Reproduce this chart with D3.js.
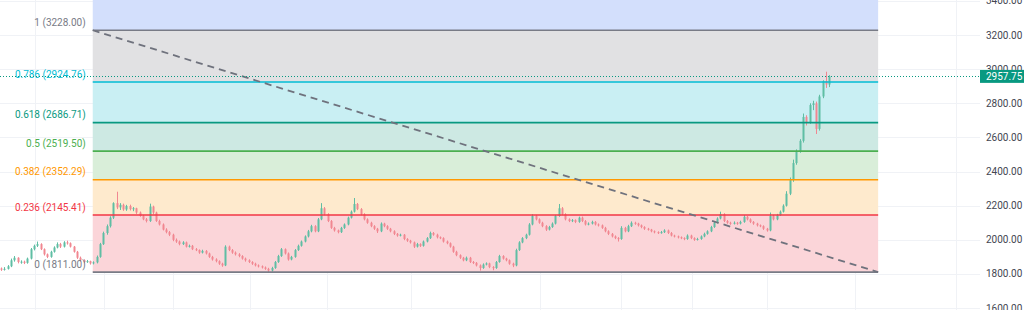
<!DOCTYPE html>
<html>
<head>
<meta charset="utf-8">
<script src="https://cdn.jsdelivr.net/npm/d3@7"></script>
<style>
  body { margin: 0; background: #fff; }
  svg { display: block; font-family: Roboto, "DejaVu Sans", sans-serif; }
</style>
</head>
<body>
<div id="chart"></div>
<script>
// daily candles: [open, high, low, close]
const candles = [
  [1832,1838,1818,1825],[1825,1840,1820,1830],[1830,1852,1826,1845],[1845,1890,1840,1880],[1880,1905,1872,1895],
  [1895,1898,1862,1870],[1870,1880,1860,1872],[1872,1878,1858,1865],[1865,1896,1860,1890],[1890,1952,1885,1945],
  [1945,1972,1938,1965],[1965,1990,1958,1975],[1975,1980,1940,1945],[1945,1950,1908,1915],[1915,1920,1893,1900],
  [1900,1936,1895,1930],[1930,1962,1925,1955],[1955,1985,1950,1975],[1975,1982,1952,1960],[1960,1992,1955,1985],
  [1985,1995,1972,1980],[1980,1985,1955,1960],[1960,1964,1925,1930],[1930,1935,1888,1895],[1895,1902,1874,1880],
  [1880,1886,1862,1870],[1870,1882,1865,1875],[1875,1878,1855,1862],[1862,1874,1856,1868],[1868,1908,1862,1900],
  [1900,1982,1895,1975],[1975,2048,1970,2040],[2040,2090,2030,2080],[2080,2138,2072,2130],[2130,2220,2122,2215],
  [2215,2282,2180,2190],[2190,2215,2175,2205],[2205,2212,2170,2178],[2178,2205,2170,2198],[2198,2206,2172,2180],
  [2180,2192,2168,2185],[2185,2188,2152,2160],[2160,2166,2135,2140],[2140,2146,2115,2120],[2120,2128,2102,2110],
  [2110,2212,2105,2195],[2195,2200,2150,2160],[2160,2165,2105,2110],[2110,2118,2084,2090],[2090,2096,2055,2060],
  [2060,2068,2038,2045],[2045,2052,2022,2030],[2030,2036,1992,2000],[2000,2008,1982,1990],[1990,1996,1968,1975],
  [1975,1992,1970,1985],[1985,1990,1955,1960],[1960,1972,1955,1965],[1965,1970,1940,1945],[1945,1952,1934,1940],
  [1940,1944,1918,1925],[1925,1942,1920,1935],[1935,1940,1914,1920],[1920,1925,1894,1900],[1900,1906,1878,1885],
  [1885,1892,1868,1875],[1875,1880,1853,1860],[1860,1866,1842,1850],[1850,1968,1846,1960],[1960,1966,1934,1940],
  [1940,1946,1918,1925],[1925,1932,1908,1915],[1915,1922,1898,1905],[1905,1910,1884,1890],[1890,1896,1872,1880],
  [1880,1886,1864,1870],[1870,1875,1853,1860],[1860,1866,1844,1850],[1850,1856,1838,1845],[1845,1850,1832,1838],
  [1838,1844,1824,1830],[1830,1836,1812,1820],[1820,1842,1814,1835],[1835,1876,1830,1870],[1870,1912,1865,1905],
  [1905,1952,1900,1945],[1945,1950,1914,1920],[1920,1926,1878,1885],[1885,1906,1880,1900],[1900,1946,1895,1940],
  [1940,1972,1935,1965],[1965,1996,1960,1990],[1990,2026,1985,2020],[2020,2058,2014,2050],[2050,2088,2044,2080],
  [2080,2086,2044,2050],[2050,2128,2045,2120],[2120,2215,2115,2185],[2185,2192,2144,2150],[2150,2156,2104,2110],
  [2110,2116,2064,2070],[2070,2076,2048,2055],[2055,2060,2038,2045],[2045,2076,2040,2070],[2070,2096,2064,2090],
  [2090,2136,2085,2130],[2130,2172,2125,2165],[2165,2245,2160,2210],[2210,2216,2174,2180],[2180,2186,2144,2150],
  [2150,2156,2114,2120],[2120,2126,2094,2100],[2100,2106,2074,2080],[2080,2086,2058,2065],[2065,2070,2040,2050],
  [2050,2102,2045,2095],[2095,2100,2074,2080],[2080,2086,2058,2065],[2065,2070,2044,2050],[2050,2056,2028,2035],
  [2035,2040,2018,2025],[2025,2036,2020,2030],[2030,2034,1998,2005],[2005,2010,1988,1995],[1995,2000,1978,1985],
  [1985,1990,1952,1960],[1960,1982,1955,1975],[1975,1980,1958,1965],[1965,1996,1960,1990],[1990,2016,1985,2010],
  [2010,2048,2005,2040],[2040,2046,2024,2030],[2030,2036,2008,2015],[2015,2020,2004,2010],[2010,2015,1984,1990],
  [1990,1996,1974,1980],[1980,1985,1954,1960],[1960,1965,1924,1930],[1930,1936,1904,1910],[1910,1915,1888,1895],
  [1895,1900,1874,1880],[1880,1902,1875,1895],[1895,1900,1864,1870],[1870,1876,1858,1865],[1865,1870,1844,1850],
  [1850,1856,1820,1835],[1835,1862,1830,1855],[1855,1868,1850,1862],[1862,1866,1834,1840],[1840,1846,1822,1835],
  [1835,1876,1830,1870],[1870,1912,1866,1905],[1905,1910,1884,1890],[1890,1895,1874,1880],[1880,1885,1854,1860],
  [1860,1866,1840,1850],[1850,1948,1845,1940],[1940,1992,1935,1985],[1985,2016,1980,2010],[2010,2036,2004,2030],
  [2030,2098,2025,2090],[2090,2150,2085,2140],[2140,2146,2114,2120],[2120,2126,2094,2100],[2100,2106,2074,2080],
  [2080,2086,2052,2060],[2060,2082,2055,2075],[2075,2102,2070,2095],[2095,2146,2090,2140],[2140,2210,2135,2185],
  [2185,2192,2144,2150],[2150,2156,2114,2120],[2120,2126,2104,2110],[2110,2122,2104,2115],[2115,2120,2098,2105],
  [2105,2136,2100,2130],[2130,2136,2104,2110],[2110,2116,2084,2090],[2090,2102,2085,2095],[2095,2112,2090,2105],
  [2105,2110,2084,2090],[2090,2096,2078,2085],[2085,2090,2064,2070],[2070,2076,2044,2050],[2050,2056,2028,2035],
  [2035,2040,2014,2020],[2020,2026,2004,2010],[2010,2016,1990,2005],[2005,2080,2000,2070],[2070,2076,2044,2050],
  [2050,2088,2045,2080],[2080,2108,2075,2100],[2100,2106,2088,2095],[2095,2100,2078,2085],[2085,2090,2068,2075],
  [2075,2080,2058,2065],[2065,2070,2054,2060],[2060,2064,2044,2050],[2050,2055,2038,2045],[2045,2050,2034,2040],
  [2040,2052,2036,2045],[2045,2062,2040,2055],[2055,2060,2034,2040],[2040,2046,2020,2025],[2025,2030,2014,2020],
  [2020,2025,2008,2015],[2015,2020,2004,2010],[2010,2015,1998,2005],[2005,2032,2000,2025],[2025,2030,2004,2010],
  [2010,2015,1994,2000],[2000,2012,1996,2005],[2005,2026,2000,2020],[2020,2042,2015,2035],[2035,2056,2030,2050],
  [2050,2082,2045,2075],[2075,2106,2070,2100],[2100,2132,2095,2125],[2125,2165,2120,2150],[2150,2156,2104,2110],
  [2110,2116,2094,2100],[2100,2106,2088,2095],[2095,2108,2090,2100],[2100,2105,2088,2095],[2095,2112,2090,2105],
  [2105,2145,2100,2135],[2135,2140,2114,2120],[2120,2126,2098,2105],[2105,2110,2088,2095],[2095,2100,2078,2085],
  [2085,2090,2074,2080],[2080,2085,2058,2065],[2065,2070,2048,2055],[2055,2160,2050,2140],[2140,2146,2114,2120],
  [2120,2152,2115,2145],[2145,2172,2140,2165],[2165,2208,2160,2200],[2200,2285,2195,2270],[2270,2365,2262,2350],
  [2350,2470,2340,2450],[2450,2530,2440,2520],[2520,2590,2510,2580],[2580,2740,2570,2720],[2720,2730,2670,2690],
  [2690,2800,2680,2790],[2790,2815,2760,2800],[2800,2810,2620,2650],[2650,2850,2640,2840],[2840,2935,2830,2930],
  [2930,2985,2890,2910],[2910,2965,2895,2957.75]
];

const fibRatios = [1.618, 1, 0.786, 0.618, 0.5, 0.382, 0.236, 0];
const fibPrices = [4103.71, 3228.00, 2924.76, 2686.71, 2519.50, 2352.29, 2145.41, 1811.00];
const fibStartIdx = 27.8;   // bar index of the 1 (high) anchor
const fibEndIdx = 265.8;    // bar index of the 0 (low) anchor
const priceTicks = [1600, 1800, 2000, 2200, 2400, 2600, 2800, 3000, 3200, 3400];
const timeGridIdx = [10.3, 31.2, 52.1, 75.5, 98.8, 124.2, 163.3, 187.9, 209.4, 232.1, 258.8, 289.4];
const lastPrice = 2957.75;

// styles
const lineColor = { 1.618: '#2962ff', 1: '#787b86', 0.786: '#00bcd4', 0.618: '#089981', 0.5: '#4caf50', 0.382: '#ff9800', 0.236: '#f23645', 0: '#787b86' };
const zoneColor = ['#d3dffc', '#e1e1e3', '#c9eff3', '#cde9e3', '#d9eed9', '#feeacd', '#fbd5d9'];
const upColor = '#5fbea4', downColor = '#f18791';

const W = 1024, H = 310, plotRight = 980;

const svg = d3.select('#chart').append('svg')
    .attr('width', W)
    .attr('height', H);

const x = d3.scaleLinear().domain([0, 100]).range([1, 331]);
const y = d3.scaleLinear().domain([1600, 3400]).range([308.1, 0.9]);

// grid
svg.append('g').selectAll('line').data(priceTicks).join('line')
    .attr('x1', 0).attr('x2', plotRight)
    .attr('y1', d => Math.round(y(d)) + 0.5).attr('y2', d => Math.round(y(d)) + 0.5)
    .attr('stroke', '#f0f2f6');

svg.append('g').selectAll('line').data(timeGridIdx).join('line')
    .attr('x1', d => Math.round(x(d)) + 0.5).attr('x2', d => Math.round(x(d)) + 0.5)
    .attr('y1', 0).attr('y2', H)
    .attr('stroke', '#f0f2f6');

// fib zones
const x0 = x(fibStartIdx), x1 = x(fibEndIdx);
const zones = d3.pairs(fibPrices);
svg.append('g').selectAll('rect').data(zones).join('rect')
    .attr('x', x0)
    .attr('width', x1 - x0)
    .attr('y', d => y(d[0]))
    .attr('height', d => y(d[1]) - y(d[0]))
    .attr('fill', (d, i) => zoneColor[i]);

// candles
const bar = svg.append('g').selectAll('g').data(candles).join('g')
    .attr('fill', d => d[3] >= d[0] ? upColor : downColor)
    .attr('stroke', d => d[3] >= d[0] ? upColor : downColor);

bar.append('line')
    .attr('x1', (d, i) => Math.round(x(i)) + 0.5)
    .attr('x2', (d, i) => Math.round(x(i)) + 0.5)
    .attr('y1', d => y(d[1]))
    .attr('y2', d => y(d[2]))
    .attr('stroke-width', 1);

bar.append('rect')
    .attr('x', (d, i) => Math.round(x(i)) - 0.5)
    .attr('width', 2)
    .attr('y', d => y(Math.max(d[0], d[3])))
    .attr('height', d => Math.max(1, Math.abs(y(d[0]) - y(d[3]))))
    .attr('stroke', 'none');

// fib level lines
svg.append('g').selectAll('line').data(fibRatios).join('line')
    .attr('x1', x0).attr('x2', x1)
    .attr('y1', (d, i) => y(fibPrices[i]))
    .attr('y2', (d, i) => y(fibPrices[i]))
    .attr('stroke', d => lineColor[d])
    .attr('stroke-width', 1.6);

// trend line between anchors
svg.append('line')
    .attr('x1', x0).attr('y1', y(fibPrices[1]))
    .attr('x2', x1).attr('y2', y(fibPrices[fibPrices.length - 1]))
    .attr('stroke', '#6f727d')
    .attr('stroke-width', 1.8)
    .attr('stroke-dasharray', '7,5');

// level labels (only those inside the visible price range)
const visibleLevels = fibRatios.map((r, i) => ({ r, p: fibPrices[i] }))
    .filter(d => d.p <= y.domain()[1]);

svg.append('g').selectAll('text').data(visibleLevels).join('text')
    .attr('x', x0 - 7)
    .attr('y', d => y(d.p) - 4.5)
    .attr('text-anchor', 'end')
    .attr('font-size', '10px')
    .attr('fill', d => lineColor[d.r])
    .text(d => `${d.r} (${d.p.toFixed(2)})`);

// last price line
svg.append('line')
    .attr('x1', 0).attr('x2', plotRight)
    .attr('y1', Math.round(y(lastPrice)) + 0.5).attr('y2', Math.round(y(lastPrice)) + 0.5)
    .attr('stroke', '#089981')
    .attr('stroke-dasharray', '1,2');

// price scale
svg.append('g').selectAll('text').data(priceTicks).join('text')
    .attr('x', 986)
    .attr('y', d => y(d) + 3.5)
    .attr('font-size', '10px')
    .attr('fill', '#434651')
    .text(d => d.toFixed(2));

svg.append('rect')
    .attr('x', plotRight).attr('width', W - plotRight)
    .attr('y', y(lastPrice) - 6.5).attr('height', 13)
    .attr('fill', '#089981');

svg.append('text')
    .attr('x', 986)
    .attr('y', y(lastPrice) + 3.5)
    .attr('font-size', '10px')
    .attr('fill', '#fff')
    .text(lastPrice.toFixed(2));
</script>
</body>
</html>
